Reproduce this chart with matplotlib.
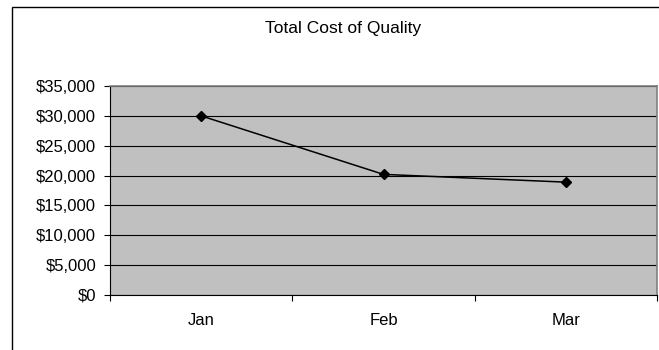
import matplotlib
matplotlib.use("Agg")
import matplotlib.pyplot as plt
from matplotlib.patches import Rectangle
from matplotlib.ticker import FuncFormatter, FixedLocator

months = ["Jan", "Feb", "Mar"]
total_cost = [30000, 20200, 18900]
y_ticks = [0, 5000, 10000, 15000, 20000, 25000, 30000, 35000]
title = "Total Cost of Quality"

plt.rcParams['font.family'] = ['Liberation Sans', 'DejaVu Sans']

W, H = 659, 350
fig = plt.figure(figsize=(W / 100, H / 100), dpi=100)
fig.patch.set_facecolor("white")

# outer chart frame (left and top visible, right/bottom beyond image)
frame = Rectangle((12 / W, -0.1), 1.2, (H - 7) / H + 0.1, transform=fig.transFigure,
                  fill=False, edgecolor="black", linewidth=1.0, zorder=0)
fig.patches.append(frame)

left, right, top, bottom = 110, 657, 86, 295
ax = fig.add_axes([left / W, (H - bottom) / H, (right - left) / W, (bottom - top) / H])
ax.set_facecolor("#c0c0c0")

x = list(range(len(months)))
ax.plot(x, total_cost, color="black", linewidth=1.1, marker="D", markersize=5,
        markerfacecolor="black", markeredgecolor="black", zorder=3)

ax.set_xlim(-0.5, len(months) - 0.5)
ax.set_ylim(0, 35000)
ax.set_yticks(y_ticks)
ax.yaxis.set_major_formatter(FuncFormatter(lambda v, p: "${:,.0f}".format(v)))
ax.grid(axis="y", color="black", linewidth=0.8)
ax.set_axisbelow(True)

ax.set_xticks(x)
ax.set_xticklabels(months)
ax.xaxis.set_minor_locator(FixedLocator([i - 0.5 for i in range(len(months) + 1)]))
ax.tick_params(axis="x", which="major", length=0, pad=13, labelsize=12)
ax.tick_params(axis="x", which="minor", length=4, width=0.8, direction="out")
ax.tick_params(axis="y", length=4, width=0.8, pad=6, labelsize=12, direction="out")

for s in ["left", "bottom"]:
    ax.spines[s].set_color("black")
    ax.spines[s].set_linewidth(0.8)
for s in ["top", "right"]:
    ax.spines[s].set_color("#808080")
    ax.spines[s].set_linewidth(1.2)

fig.text(343 / W, 1 - 28.5 / H, title, ha="center", va="center", fontsize=12.5)

fig.savefig("out.png", dpi=100)
